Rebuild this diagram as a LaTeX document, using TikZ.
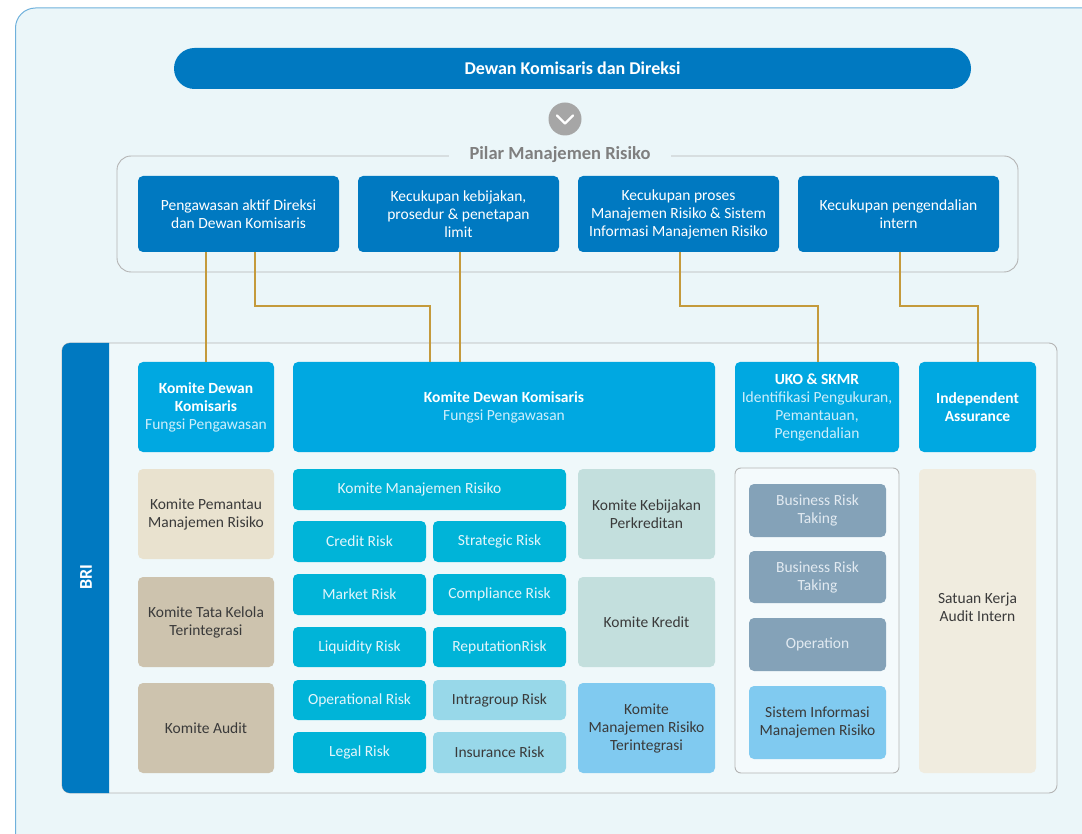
\documentclass[tikz,border=0pt]{standalone}
\usepackage{fontspec}
\setmainfont{Carlito}
\usetikzlibrary{calc}
\definecolor{bg}{HTML}{EBF6F9}
\definecolor{frameblue}{HTML}{6FB1DC}
\definecolor{darkblue}{HTML}{0079C1}
\definecolor{midblue}{HTML}{00A8E1}
\definecolor{cyanbox}{HTML}{00B4D8}
\definecolor{lightcyan}{HTML}{98D8E9}
\definecolor{skyblue}{HTML}{80CAF0}
\definecolor{beigeA}{HTML}{E9E2CF}
\definecolor{beigeB}{HTML}{CDC3AE}
\definecolor{mint}{HTML}{C3DFDD}
\definecolor{slate}{HTML}{84A2B8}
\definecolor{cream}{HTML}{F0ECDF}
\definecolor{gold}{HTML}{C49A3C}
\definecolor{grayline}{HTML}{B4B4B4}
\definecolor{graytext}{HTML}{7F7F7F}
\definecolor{circgray}{HTML}{A6A6A6}
\definecolor{darktext}{HTML}{3A3A3A}
\definecolor{lighttext}{HTML}{E3F5FB}
\definecolor{subtext}{HTML}{CDEEFB}
\definecolor{slatetext}{HTML}{E2EAF1}
\definecolor{bribg}{HTML}{EFF8FA}
\definecolor{ukobg}{HTML}{F4FAFC}
\newcommand\mybox[7]{\node[#6, minimum width={(#4)-(#2)}, minimum height={(#5)-(#3)}] (#1) at ({((#2)+(#4))/2},{((#3)+(#5))/2}) {#7};}
\tikzset{
  base/.style={rounded corners=5pt, inner sep=1pt, align=center, font=\fontsize{15.5}{18}\selectfont},
  pill/.style={rounded corners=20.5pt, fill=darkblue, text=white, inner sep=0pt, font=\bfseries\fontsize{18}{20}\selectfont},
  pillar/.style={base, fill=darkblue, text=white},
  head/.style={base, fill=midblue, text=white},
  risk/.style={base, fill=cyanbox, text=lighttext},
  riskl/.style={base, fill=lightcyan, text=darktext},
  begA/.style={base, fill=beigeA, text=darktext},
  begB/.style={base, fill=beigeB, text=darktext},
  mintbox/.style={base, fill=mint, text=darktext},
  skybox/.style={base, fill=skyblue, text=darktext},
  slatebox/.style={base, fill=slate, text=slatetext},
  creambox/.style={base, fill=cream},
  conn/.style={gold, line width=1.3pt},
}
\begin{document}
\begin{tikzpicture}[x=1pt, y=-1pt]
\useasboundingbox (0,0) rectangle (1082,834);
\clip (0,0) rectangle (1082,834);
% outer frame
\draw[frameblue, fill=bg, line width=1pt, rounded corners=20pt] (15.5,8) rectangle (1120,870);
% title
\mybox{top}{174}{48}{971}{89}{pill}{Dewan Komisaris dan Direksi}
\node[circle, fill=circgray, minimum size=33pt, inner sep=0pt] (chev) at (565,119) {};
\draw[white, line width=2.2pt, line cap=round, line join=round] ($(chev)+(-8,-3.5)$) -- ($(chev)+(0,4.5)$) -- ($(chev)+(8,-3.5)$);
% pillar frame
\draw[grayline, line width=0.9pt, rounded corners=14pt] (117,156) rectangle (1018,272);
\node[fill=bg, inner xsep=21pt, inner ysep=2pt, text=graytext, font=\bfseries\fontsize{18.5}{20}\selectfont] (pilar) at (560,155) {Pilar Manajemen Risiko};
\mybox{p1}{138}{176}{339}{252}{pillar}{Pengawasan aktif Direksi\\dan Dewan Komisaris}
\mybox{p2}{358}{176}{559}{252}{pillar}{Kecukupan kebijakan,\\prosedur \& penetapan\\limit}
\mybox{p3}{578}{176}{779}{252}{pillar}{Kecukupan proses\\Manajemen Risiko \& Sistem\\Informasi Manajemen Risiko}
\mybox{p4}{798}{176}{999}{252}{pillar}{Kecukupan pengendalian\\intern}
% BRI frame
\draw[grayline, line width=0.9pt, fill=bribg, rounded corners=8pt] (62,343) rectangle (1057,793);
\begin{scope}
\clip (61,342) rectangle (109,794);
\fill[darkblue, rounded corners=8pt] (62,343) rectangle (130,793);
\end{scope}
\node[rotate=90, text=white, font=\bfseries\fontsize{18}{20}\selectfont] (bri) at (86,577) {BRI};
% top row
\mybox{kdka}{138}{362}{274}{452}{head}{\textbf{Komite Dewan}\\\textbf{Komisaris}\\\textcolor{subtext}{Fungsi Pengawasan}}
\mybox{kdkb}{293}{362}{715}{452}{head}{\textbf{Komite Dewan Komisaris}\\\textcolor{subtext}{Fungsi Pengawasan}}
\mybox{uko}{735}{362}{899}{452}{head}{\textbf{UKO \& SKMR}\\\textcolor{subtext}{Identifikasi Pengukuran,}\\\textcolor{subtext}{Pemantauan,}\\\textcolor{subtext}{Pengendalian}}
\mybox{ia}{919}{362}{1036}{452}{head}{\textbf{Independent}\\\textbf{Assurance}}
% connectors
\coordinate (mid) at (0,306);
\coordinate (a1) at ($(p1.south)+(16.5,0)$);
\coordinate (b1) at ($(kdkb.north)+(-74,0)$);
\coordinate (a2) at ($(p2.south)+(1.5,0)$);
\coordinate (a3) at ($(p3.south)+(1.5,0)$);
\coordinate (b3) at ($(uko.north)+(1,0)$);
\coordinate (a4) at ($(p4.south)+(1.5,0)$);
\coordinate (b4) at ($(ia.north)+(0.5,0)$);
\draw[conn] (kdka.north |- p1.south) -- (kdka.north);
\draw[conn] (a1) -- (a1 |- mid) -- (b1 |- mid) -- (b1);
\draw[conn] (a2) -- (a2 |- kdkb.north);
\draw[conn] (a3) -- (a3 |- mid) -- (b3 |- mid) -- (b3);
\draw[conn] (a4) -- (a4 |- mid) -- (b4 |- mid) -- (b4);
% left column
\mybox{kpmr}{138}{469}{274}{559}{begA}{Komite Pemantau\\Manajemen Risiko}
\mybox{ktk}{138}{577}{274}{667}{begB}{Komite Tata Kelola\\Terintegrasi}
\mybox{kaud}{138}{683}{274}{773}{begB}{Komite Audit}
% risk grid
\mybox{kmr}{293}{469}{566}{510}{risk}{\hspace*{-20pt}Komite Manajemen Risiko}
\mybox{cr}{293}{521}{426}{562}{risk}{Credit Risk}
\mybox{sr}{433}{521}{566}{562}{risk}{Strategic Risk}
\mybox{mr}{293}{574}{426}{615}{risk}{Market Risk}
\mybox{cmr}{433}{574}{566}{615}{risk}{Compliance Risk}
\mybox{lr}{293}{627}{426}{667}{risk}{Liquidity Risk}
\mybox{rr}{433}{627}{566}{667}{risk}{ReputationRisk}
\mybox{opr}{293}{680}{426}{720}{risk}{Operational Risk}
\mybox{igr}{433}{680}{566}{720}{riskl}{Intragroup Risk}
\mybox{lgr}{293}{732}{426}{773}{risk}{Legal Risk}
\mybox{inr}{433}{732}{566}{773}{riskl}{Insurance Risk}
% right of grid
\mybox{kkp}{578}{469}{715}{559}{mintbox}{Komite Kebijakan\\Perkreditan}
\mybox{kk}{578}{577}{715}{667}{mintbox}{Komite Kredit}
\mybox{kmrt}{578}{683}{715}{773}{skybox}{Komite\\Manajemen Risiko\\Terintegrasi}
% UKO column
\draw[grayline, line width=0.9pt, fill=ukobg, rounded corners=6pt] (735,468) rectangle (899,773);
\mybox{brta}{749}{484}{886}{537}{slatebox}{Business Risk\\Taking}
\mybox{brtb}{749}{551}{886}{603}{slatebox}{Business Risk\\Taking}
\mybox{oper}{749}{618}{886}{671}{slatebox}{Operation}
\mybox{simr}{749}{686}{886}{759}{skybox}{Sistem Informasi\\Manajemen Risiko}
% audit intern
\mybox{skai}{919}{469}{1036}{773}{creambox}{}
\node[align=center, text=darktext, font=\fontsize{15.5}{18}\selectfont] (skait) at (977.5,607) {Satuan Kerja\\Audit Intern};
\end{tikzpicture}
\end{document}
